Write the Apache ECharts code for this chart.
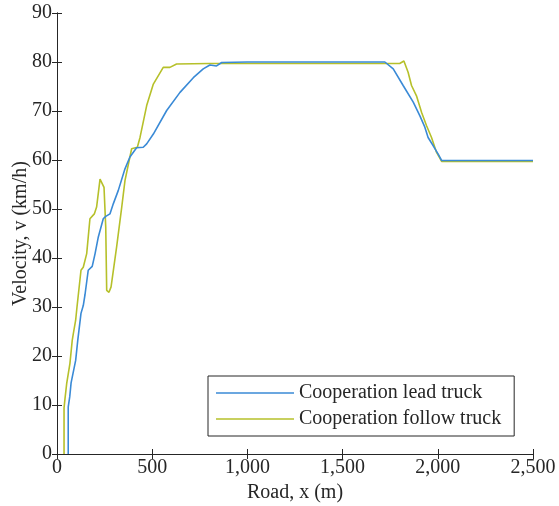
<!DOCTYPE html>
<html>
<head>
<meta charset="utf-8">
<script src="https://cdn.jsdelivr.net/npm/echarts@6/dist/echarts.min.js"></script>
<style>
  html, body { margin: 0; padding: 0; background: #ffffff; }
  #chart { width: 559px; height: 506px; }
</style>
</head>
<body>
<div id="chart"></div>
<script>
// Road position (m) and velocity (km/h) of the lead truck
const leadX = [59, 59, 67, 74, 98, 109, 126, 138, 147, 164, 185, 200, 217, 243, 256, 278, 296, 322, 357, 383, 418, 453, 471, 506, 576, 646, 716, 768, 803, 838, 865, 1000, 1200, 1400, 1600, 1722, 1766, 1818, 1871, 1906, 1932, 1949, 1976, 2002, 2020, 2200, 2400, 2500];
const leadV = [0, 9.6, 11.7, 14.5, 19.1, 23.2, 28.7, 30.3, 32.5, 37.5, 38.3, 40.9, 44.3, 48.0, 48.5, 49.0, 51.1, 53.8, 58.2, 60.6, 62.5, 62.6, 63.3, 65.3, 70.1, 73.8, 76.8, 78.6, 79.4, 79.2, 79.9, 80.0, 80.0, 80.0, 80.0, 80.0, 78.6, 75.2, 71.8, 69.0, 66.7, 64.6, 62.9, 61.2, 59.9, 59.9, 59.9, 59.9];

// Road position (m) and velocity (km/h) of the follow truck
const followX = [37, 37, 42, 51, 68, 80, 86, 98, 105, 126, 138, 156, 173, 196, 208, 226, 235, 247, 256, 261, 273, 284, 313, 340, 357, 392, 422, 436, 471, 506, 558, 593, 628, 800, 1000, 1200, 1400, 1600, 1800, 1822, 1844, 1862, 1888, 1915, 1941, 1967, 1993, 2020, 2200, 2400, 2500];
const followV = [0, 9.4, 11.3, 14.4, 18.5, 23.2, 24.6, 27.3, 30.0, 37.5, 38.1, 40.9, 48.0, 49.0, 50.4, 56.1, 56.5, 54.4, 46.3, 33.4, 33.0, 34.1, 42.2, 50.4, 55.8, 62.3, 62.6, 64.6, 71.1, 75.5, 78.9, 78.9, 79.6, 79.7, 79.7, 79.7, 79.7, 79.7, 79.7, 80.2, 77.9, 75.2, 73.1, 69.7, 67.0, 64.6, 61.6, 59.7, 59.7, 59.7, 59.7];

const seriesNames = ['Cooperation lead truck', 'Cooperation follow truck'];
const seriesColors = ['#3a8ad6', '#b6c02a'];

const xRange = { min: 0, max: 2500, interval: 500 };
const yRange = { min: 0, max: 90, interval: 10 };

const ink = '#262626';
const serif = '"Liberation Serif", "Times New Roman", serif';

function pairs(xs, ys) {
  return xs.map((x, i) => [x, ys[i]]);
}

const lineAxis = { lineStyle: { color: ink, width: 1 } };
const tickIn = { inside: true, length: 5, lineStyle: { color: ink, width: 1 } };

const chart = echarts.init(document.getElementById('chart'), null, { renderer: 'canvas' });
chart.setOption({
  animation: false,
  backgroundColor: '#ffffff',
  grid: { left: 57, right: 26, top: 13, bottom: 52, containLabel: false, outerBoundsMode: 'none' },
  legend: {
    orient: 'vertical',
    left: 208,
    top: 376,
    data: seriesNames,
    icon: 'rect',
    backgroundColor: '#ffffff',
    borderColor: ink,
    borderWidth: 1,
    borderRadius: 0,
    padding: [6, 13, 6, 8],
    itemGap: 4,
    itemWidth: 78,
    itemHeight: 1.6,
    textStyle: { fontFamily: serif, fontSize: 20, color: ink, lineHeight: 22 }
  },
  xAxis: [
    {
      type: 'value', position: 'bottom',
      min: xRange.min, max: xRange.max, interval: xRange.interval,
      name: 'Road, x (m)', nameLocation: 'middle', nameGap: 29, nameMoveOverlap: false,
      nameTextStyle: { fontFamily: serif, fontSize: 20, color: ink },
      axisLine: lineAxis, axisTick: tickIn, splitLine: { show: false },
      axisLabel: {
        fontFamily: serif, fontSize: 20, color: ink, margin: 4,
        formatter: v => v.toLocaleString('en-US')
      }
    },
    {
      type: 'value', position: 'top',
      min: xRange.min, max: xRange.max, interval: xRange.interval,
      axisLine: lineAxis, axisTick: tickIn, axisLabel: { show: false }, splitLine: { show: false }
    }
  ],
  yAxis: [
    {
      type: 'value', position: 'left',
      min: yRange.min, max: yRange.max, interval: yRange.interval,
      name: 'Velocity, v (km/h)', nameLocation: 'middle', nameGap: 26, nameMoveOverlap: false,
      nameTextStyle: { fontFamily: serif, fontSize: 20, color: ink },
      axisLine: lineAxis, axisTick: tickIn, splitLine: { show: false },
      axisLabel: { fontFamily: serif, fontSize: 20, color: ink, margin: 5 }
    },
    {
      type: 'value', position: 'right',
      min: yRange.min, max: yRange.max, interval: yRange.interval,
      axisLine: lineAxis, axisTick: tickIn, axisLabel: { show: false }, splitLine: { show: false }
    }
  ],
  series: [
    {
      name: seriesNames[0], type: 'line', data: pairs(leadX, leadV),
      showSymbol: false, symbol: 'none', smooth: false, z: 3,
      lineStyle: { color: seriesColors[0], width: 1.6 },
      itemStyle: { color: seriesColors[0] }
    },
    {
      name: seriesNames[1], type: 'line', data: pairs(followX, followV),
      showSymbol: false, symbol: 'none', smooth: false, z: 2,
      lineStyle: { color: seriesColors[1], width: 1.6 },
      itemStyle: { color: seriesColors[1] }
    }
  ]
});
</script>
</body>
</html>
